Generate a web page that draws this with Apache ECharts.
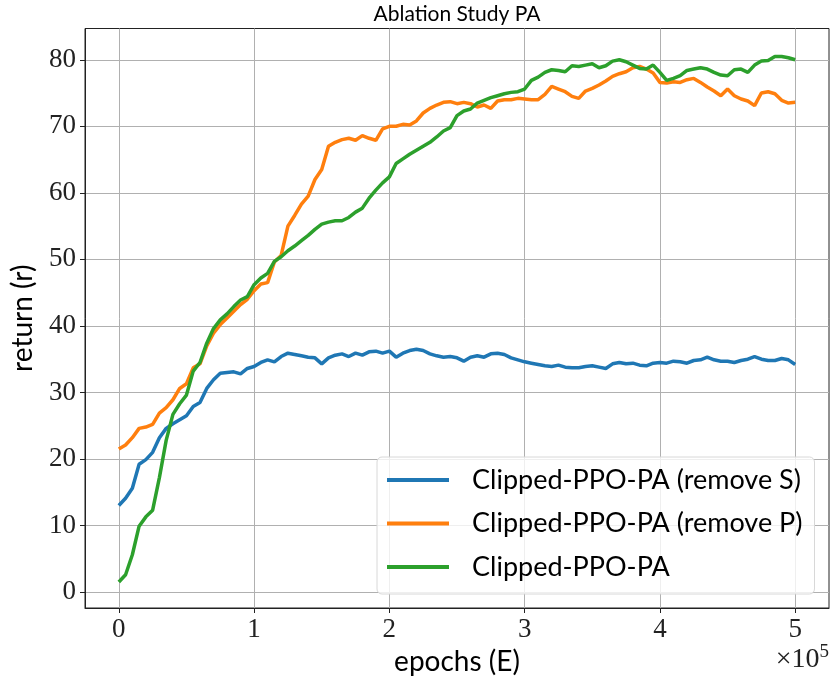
<!DOCTYPE html>
<html>
<head>
<meta charset="utf-8">
<script src="https://cdn.jsdelivr.net/npm/echarts@6/dist/echarts.min.js"></script>
<style>
  html, body { margin: 0; padding: 0; background: #fff; }
  #chart { width: 833px; height: 683px; }
</style>
</head>
<body>
<div id="chart"></div>
<script>
// x values, in units of 1e5 epochs (one point every 5000 epochs)
var epochs = [];
for (var i = 0; i <= 100; i++) { epochs.push(i * 5000); }

var xTicks = [0, 100000, 200000, 300000, 400000, 500000];
var yTicks = [0, 10, 20, 30, 40, 50, 60, 70, 80];

var seriesNames = ['Clipped-PPO-PA (remove S)', 'Clipped-PPO-PA (remove P)', 'Clipped-PPO-PA'];

// remove S
var removeS = [13.0, 14.1, 15.6, 19.2, 19.9, 21.0, 23.2, 24.6, 25.3, 25.9,
  26.5, 27.9, 28.5, 30.6, 31.9, 32.9, 33.0, 33.1, 32.8, 33.6,
  33.9, 34.5, 34.9, 34.6, 35.4, 35.9, 35.7, 35.5, 35.3, 35.2,
  34.3, 35.2, 35.6, 35.8, 35.4, 35.9, 35.6, 36.1, 36.2, 35.9,
  36.2, 35.3, 35.9, 36.3, 36.5, 36.3, 35.8, 35.5, 35.3, 35.4,
  35.2, 34.7, 35.3, 35.5, 35.3, 35.8, 35.9, 35.7, 35.2, 34.9,
  34.6, 34.4, 34.2, 34.0, 33.9, 34.1, 33.8, 33.7, 33.7, 33.9,
  34.0, 33.8, 33.6, 34.3, 34.5, 34.3, 34.4, 34.1, 34.0, 34.4,
  34.5, 34.4, 34.7, 34.6, 34.4, 34.8, 34.9, 35.3, 34.9, 34.7,
  34.7, 34.5, 34.8, 35.0, 35.4, 35.0, 34.8, 34.8, 35.1, 34.9,
  34.2];

// remove P
var removeP = [21.5, 22.1, 23.2, 24.6, 24.8, 25.2, 26.9, 27.7, 28.9, 30.6,
  31.3, 33.7, 34.3, 37.0, 38.9, 40.2, 41.2, 42.2, 43.2, 44.0,
  45.3, 46.3, 46.5, 49.6, 50.6, 55.0, 56.6, 58.3, 59.5, 62.0,
  63.5, 67.0, 67.6, 68.0, 68.2, 67.9, 68.6, 68.2, 67.9, 69.6,
  70.0, 70.0, 70.3, 70.2, 70.8, 72.0, 72.7, 73.2, 73.6, 73.7,
  73.4, 73.6, 73.4, 72.9, 73.2, 72.7, 73.8, 74.0, 74.0, 74.2,
  74.1, 74.0, 74.0, 74.8, 76.0, 75.6, 75.2, 74.5, 74.2, 75.3,
  75.7, 76.2, 76.8, 77.5, 77.9, 78.2, 78.8, 79.0, 78.6, 78.0,
  76.6, 76.5, 76.7, 76.6, 77.0, 77.2, 76.6, 75.9, 75.3, 74.6,
  75.6, 74.6, 74.1, 73.8, 73.1, 75.0, 75.2, 74.9, 73.9, 73.5,
  73.6];

// full model
var full = [1.5, 2.6, 5.6, 9.9, 11.3, 12.3, 17.2, 22.8, 26.7, 28.3,
  29.6, 33.2, 34.5, 37.4, 39.6, 40.9, 41.8, 42.9, 43.9, 44.4,
  46.2, 47.2, 47.9, 49.7, 50.4, 51.3, 52.0, 52.8, 53.6, 54.5,
  55.3, 55.6, 55.8, 55.8, 56.3, 57.1, 57.7, 59.2, 60.4, 61.5,
  62.4, 64.4, 65.1, 65.8, 66.4, 67.0, 67.6, 68.4, 69.3, 69.8,
  71.6, 72.3, 72.6, 73.5, 73.9, 74.3, 74.6, 74.9, 75.1, 75.2,
  75.6, 76.9, 77.4, 78.1, 78.5, 78.4, 78.2, 79.1, 79.0, 79.2,
  79.4, 78.8, 79.1, 79.8, 80.0, 79.7, 79.2, 78.7, 78.6, 79.2,
  78.1, 76.9, 77.2, 77.6, 78.4, 78.6, 78.8, 78.6, 78.1, 77.7,
  77.6, 78.5, 78.6, 78.1, 79.2, 79.8, 79.9, 80.5, 80.5, 80.3,
  80.0];

var colors = ['#1f77b4', '#ff7f0e', '#2ca02c'];

function pairs(vals) {
  return vals.map(function (v, i) { return [epochs[i], v]; });
}

var sansFont = 'Lato';
var serifFont = 'Liberation Serif';

var chart = echarts.init(document.getElementById('chart'), null, { renderer: 'canvas' });

var option = {
  animation: false,
  backgroundColor: '#ffffff',
  color: colors,
  grid: {
    left: 85, top: 28.5, right: 4, bottom: 75,
    containLabel: false,
    outerBoundsMode: 'none',
    show: true,
    borderColor: '#222',
    borderWidth: 1
  },
  graphic: [
    {
      type: 'text', x: 457, y: 14, silent: true,
      style: {
        text: 'Ablation Study PA', fontFamily: sansFont, fontSize: 21,
        fill: '#000', align: 'center', verticalAlign: 'middle'
      }
    },
    {
      type: 'text', x: 829, y: 660, silent: true,
      style: {
        text: '{a|\u00d710}{b|5}', align: 'right', verticalAlign: 'middle',
        rich: {
          a: { fontFamily: serifFont, fontSize: 28, fill: '#222' },
          b: { fontFamily: serifFont, fontSize: 19, fill: '#222', padding: [0, 0, 16, 0] }
        }
      }
    }
  ],
  legend: {
    orient: 'vertical',
    left: 377, top: 457,
    padding: [8, 12, 12, 10],
    itemGap: 13.5,
    itemWidth: 62,
    itemHeight: 4,
    icon: 'rect',
    backgroundColor: 'rgba(255,255,255,0.8)',
    borderColor: '#d8d8d8',
    borderWidth: 1,
    borderRadius: 5,
    data: seriesNames,
    textStyle: {
      fontFamily: sansFont, fontSize: 27, color: '#000',
      lineHeight: 30, padding: [0, 0, 0, 18]
    }
  },
  xAxis: {
    type: 'value',
    min: -25000, max: 525000,
    name: 'epochs (E)',
    nameLocation: 'middle',
    nameGap: 40,
    nameTextStyle: { fontFamily: sansFont, fontSize: 28, color: '#000' },
    axisLine: { show: true, onZero: false, lineStyle: { color: '#222', width: 1 } },
    axisTick: { show: true, length: 5, lineStyle: { color: '#222' }, customValues: xTicks },
    axisLabel: {
      customValues: xTicks,
      margin: 8,
      fontFamily: serifFont, fontSize: 27, color: '#222',
      formatter: function (v) { return String(Math.round(v / 100000)); }
    },
    splitLine: { show: true, lineStyle: { color: '#b0b0b0', width: 1 } }
  },
  yAxis: {
    type: 'value',
    min: -2.4, max: 84.7,
    name: 'return (r)',
    nameLocation: 'middle',
    nameGap: 48,
    nameRotate: 90,
    nameTextStyle: { fontFamily: sansFont, fontSize: 28, color: '#000' },
    axisLine: { show: true, onZero: false, lineStyle: { color: '#222', width: 1 } },
    axisTick: { show: true, length: 5, lineStyle: { color: '#222' }, customValues: yTicks },
    axisLabel: {
      customValues: yTicks,
      margin: 9,
      fontFamily: serifFont, fontSize: 27, color: '#222'
    },
    splitLine: { show: true, lineStyle: { color: '#b0b0b0', width: 1 } }
  },
  series: [
    { name: seriesNames[0], type: 'line', data: pairs(removeS), showSymbol: false, lineStyle: { width: 3.5 } },
    { name: seriesNames[1], type: 'line', data: pairs(removeP), showSymbol: false, lineStyle: { width: 3.5 } },
    { name: seriesNames[2], type: 'line', data: pairs(full), showSymbol: false, lineStyle: { width: 3.5 } }
  ]
};

chart.setOption(option);
</script>
</body>
</html>
